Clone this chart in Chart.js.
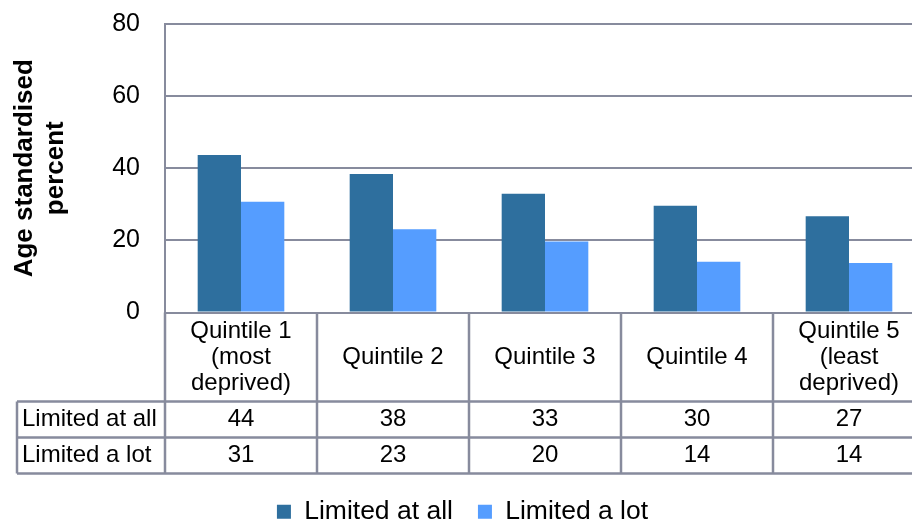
<!DOCTYPE html>
<html>
<head>
<meta charset="utf-8">
<script src="https://cdn.jsdelivr.net/npm/chart.js@4.4.1/dist/chart.umd.min.js"></script>
<style>
  html, body { margin: 0; padding: 0; background: #fff; overflow: hidden; }
  #wrap { position: relative; width: 926px; height: 535px; }
</style>
</head>
<body>
<div id="wrap"><canvas id="barChart"></canvas></div>
<script>
const categories = [
  ["Quintile 1", "(most", "deprived)"],
  ["Quintile 2"],
  ["Quintile 3"],
  ["Quintile 4"],
  ["Quintile 5", "(least", "deprived)"]
]
const seriesNames = ["Limited at all", "Limited a lot"]
const limitedAtAll = [43.7, 38.4, 32.9, 29.6, 26.7]
const limitedALot = [30.7, 23.1, 19.7, 14.1, 13.7]
const yTitle = ["Age standardised", "percent"]

const FONT = "'Liberation Sans', Arial, sans-serif"
const GRID = "#878b9d"

// data table under the plot, lined up with the category scale
const dataTable = {
  id: "dataTable",
  afterDraw(chart) {
    const ctx = chart.ctx
    const x = chart.scales.x
    const area = chart.chartArea
    const step = (x.right - x.left) / categories.length
    const top = area.bottom
    const rows = [top, top + 89, top + 125, top + 161]
    const leftEdge = 17
    const series = [limitedAtAll, limitedALot]

    ctx.save()
    ctx.strokeStyle = GRID
    ctx.lineWidth = 2.5
    ctx.beginPath()
    for (let r = 1; r < rows.length; r++) {
      ctx.moveTo(leftEdge, rows[r])
      ctx.lineTo(x.right + 5, rows[r])
    }
    ctx.moveTo(leftEdge, rows[1])
    ctx.lineTo(leftEdge, rows[3])
    for (let i = 0; i <= categories.length; i++) {
      const bx = x.left + step * i
      ctx.moveTo(bx, rows[0])
      ctx.lineTo(bx, rows[3])
    }
    ctx.stroke()

    ctx.fillStyle = "#000"
    ctx.font = "24px " + FONT
    ctx.textBaseline = "middle"
    ctx.textAlign = "center"
    categories.forEach((lines, i) => {
      const cx = x.getPixelForValue(i)
      const mid = (rows[0] + rows[1]) / 2
      const lh = 26
      lines.forEach((t, k) => {
        ctx.fillText(t, cx, mid + (k - (lines.length - 1) / 2) * lh)
      })
      series.forEach((vals, s) => {
        ctx.fillText(String(Math.round(vals[i])), cx, (rows[s + 1] + rows[s + 2]) / 2)
      })
    })
    ctx.textAlign = "left"
    seriesNames.forEach((name, s) => {
      ctx.fillText(name, leftEdge + 5, (rows[s + 1] + rows[s + 2]) / 2)
    })
    ctx.restore()
  }
}

const CHART = document.getElementById("barChart")

let barChart = new Chart(CHART, {
  type: "bar",
  data: {
    labels: categories.map(c => c.join(" ")),
    datasets: [
      {
        label: seriesNames[0],
        backgroundColor: "#2e6f9e",
        data: limitedAtAll
      },
      {
        label: seriesNames[1],
        backgroundColor: "#559dff",
        data: limitedALot
      }
    ]
  },
  options: {
    responsive: true,
    maintainAspectRatio: false,
    animation: false,
    layout: {
      padding: { top: 24, right: 1, bottom: 0, left: 0 }
    },
    datasets: {
      bar: { categoryPercentage: 0.57, barPercentage: 1.0 }
    },
    scales: {
      x: {
        grid: { display: false },
        border: { display: false },
        ticks: { display: false },
        afterFit: s => { s.height = 161; s.paddingLeft = 0; s.paddingRight = 0 }
      },
      y: {
        min: 0,
        max: 80,
        ticks: {
          stepSize: 20,
          padding: 25,
          color: "#000",
          font: { family: FONT, size: 25 }
        },
        grid: { color: GRID, lineWidth: 2, drawTicks: false },
        border: { color: GRID, width: 2 },
        title: {
          display: true,
          text: yTitle,
          color: "#000",
          padding: { top: 9, bottom: 0 },
          font: { family: FONT, size: 26, weight: "bold", lineHeight: "31px" }
        },
        afterFit: s => { s.width = 165; s.paddingTop = 0; s.paddingBottom = 0 }
      }
    },
    plugins: {
      legend: {
        position: "bottom",
        labels: {
          boxWidth: 14,
          boxHeight: 14,
          padding: 25,
          color: "#000",
          font: { family: FONT, size: 26.5 }
        }
      },
      tooltip: { enabled: false }
    }
  },
  plugins: [dataTable]
})
</script>
</body>
</html>
